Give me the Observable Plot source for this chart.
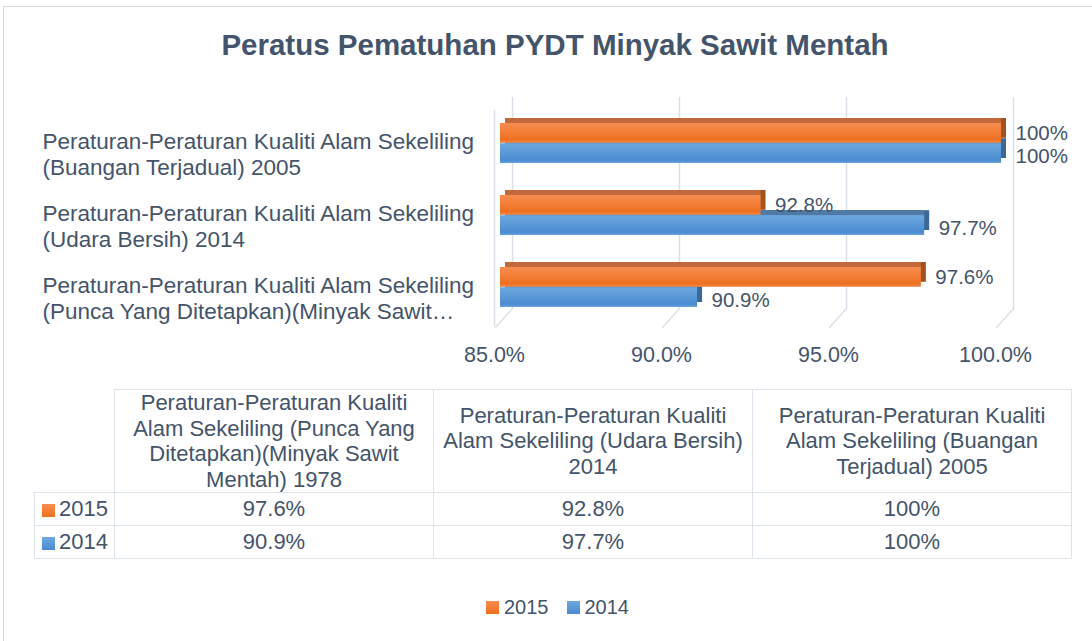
<!DOCTYPE html>
<html>
<head>
<meta charset="utf-8">
<script src="https://cdn.jsdelivr.net/npm/d3@7"></script>
<script src="https://cdn.jsdelivr.net/npm/@observablehq/plot@0.6"></script>
<style>
  html, body { margin: 0; padding: 0; background: #ffffff; }
  body { width: 1092px; height: 641px; overflow: hidden; position: relative;
         font-family: "Liberation Sans", Arial, sans-serif; color: #44546a; }
  #frame { position: absolute; left: 3px; top: 6px; width: 1200px; height: 700px;
           border: 1px solid #d9d9d9; box-sizing: border-box; }
  #title { position: absolute; left: 0; top: 28px; width: 1110px; text-align: center;
           font-weight: bold; font-size: 29.5px; line-height: 34px; color: #44546a; }
  #chart { position: absolute; left: 0; top: 0; }
  #tbl { position: absolute; left: 34px; top: 389px; border-collapse: collapse;
         font-size: 22px; color: #44546a; table-layout: fixed; }
  #tbl td { border: 1.5px solid #dde3ea; padding: 0; text-align: center; vertical-align: middle;
            white-space: nowrap; }
  #tbl td.hdr { height: 102px; line-height: 25.5px; }
  #tbl td.corner { border-top: none; border-left: none; }
  #tbl td.val { height: 32px; }
  #tbl td.key { text-align: left; padding-left: 7px; }
  .sq { display: inline-block; width: 13px; height: 13px; margin-right: 4px; vertical-align: -1px; }
  #legend { position: absolute; left: 486px; top: 596px; font-size: 20px; color: #44546a;
            display: flex; align-items: center; white-space: nowrap; }
  #legend .item { display: flex; align-items: center; margin-right: 18px; }
  #legend .sq { margin-right: 5px; }
</style>
</head>
<body>
<div id="frame"></div>
<div id="title">Peratus Pematuhan PYDT Minyak Sawit Mentah</div>
<div id="chart"></div>
<table id="tbl"></table>
<div id="legend"></div>
<script>
// ---------------- data ----------------
const categories = [
  "Peraturan-Peraturan Kualiti Alam Sekeliling (Punca Yang Ditetapkan)(Minyak Sawit Mentah) 1978",
  "Peraturan-Peraturan Kualiti Alam Sekeliling (Udara Bersih) 2014",
  "Peraturan-Peraturan Kualiti Alam Sekeliling (Buangan Terjadual) 2005"
];
const axisLabels = [
  "Peraturan-Peraturan Kualiti Alam Sekeliling\n(Punca Yang Ditetapkan)(Minyak Sawit…",
  "Peraturan-Peraturan Kualiti Alam Sekeliling\n(Udara Bersih) 2014",
  "Peraturan-Peraturan Kualiti Alam Sekeliling\n(Buangan Terjadual) 2005"
];
const tableHeaderLines = [
  ["Peraturan-Peraturan Kualiti", "Alam Sekeliling (Punca Yang", "Ditetapkan)(Minyak Sawit", "Mentah) 1978"],
  ["Peraturan-Peraturan Kualiti", "Alam Sekeliling (Udara Bersih)", "2014"],
  ["Peraturan-Peraturan Kualiti", "Alam Sekeliling (Buangan", "Terjadual) 2005"]
];
const series = ["2015", "2014"];
const values2015 = [97.6, 92.8, 100];
const values2014 = [90.9, 97.7, 100];
const xDomain = [85, 100];
const xTicks = [85, 90, 95, 100];

// ---------------- styling ----------------
const textColor = "#44546a";
const gridColor = "#dbe0e8";
const colors = {
  "2015": {front: "url(#gradOrange)", top: "#c36a3d", side: "#a5511c"},
  "2014": {front: "url(#gradBlue)", top: "#4f7aa6", side: "#3c6897"}
};

const data = categories.map((c, i) => ({
  cat: c, label: axisLabels[i], "2015": values2015[i], "2014": values2014[i]
}));
const chartOrder = categories.slice().reverse();

const depth = 5;
const halfBand = 20.2;
const lineShape = {draw(context, l) { context.moveTo(0, 0); context.lineTo(0, -l); }};

function barMarks(s, isTop) {
  const base = {y: "cat", x1: () => xDomain[0], x2: s};
  const ins = isTop ? {insetBottom: halfBand} : {insetTop: halfBand};
  return [
    Plot.barX(data, {...base, ...ins, dx: depth, dy: -depth, fill: colors[s].side}),
    Plot.barX(data, {...base, ...ins, dx: depth, dy: -depth, insetRight: depth, fill: colors[s].top}),
    Plot.barX(data, {...base, ...ins, fill: colors[s].front}),
    Plot.text(data, {x: s, y: "cat", text: d => `${d[s]}%`, dx: 14, dy: isTop ? -10.4 : 13.2,
      textAnchor: "start", fontSize: 20.5, fill: textColor})
  ];
}

const chart = Plot.plot({
  width: 1092,
  height: 380,
  marginLeft: 500,
  marginRight: 91,
  marginTop: 102.6,
  marginBottom: 53,
  style: {fontFamily: "'Liberation Sans', Arial, sans-serif", color: textColor, background: "transparent", overflow: "visible"},
  x: {domain: xDomain, axis: null},
  y: {domain: chartOrder, paddingInner: 0.44, paddingOuter: 0.273, axis: null},
  marks: [
    Plot.ruleX(xTicks, {x: d => d, dx: 12, dy: -19, insetTop: 13.4, stroke: gridColor, strokeWidth: 1.5}),
    Plot.vector(xTicks, {x: d => d, frameAnchor: "bottom", anchor: "start", dx: -5, length: 25.5, rotate: 41.8,
      shape: lineShape, stroke: gridColor, strokeWidth: 1.5}),
    Plot.ruleX([xDomain[0]], {x: d => d, dx: -6, insetTop: 7.4, insetBottom: 1, stroke: gridColor, strokeWidth: 1.5}),
    Plot.axisX(xTicks, {tickSize: 0, tickPadding: 19, dx: -6, tickFormat: d => d.toFixed(1) + "%",
      fontSize: 21.5, fill: textColor}),
    Plot.text(data, {y: "cat", text: "label", frameAnchor: "left", dx: -458, dy: 10, textAnchor: "start",
      fontSize: 22.5, lineHeight: 1.16, fill: textColor}),
    ...barMarks("2014", false),
    ...barMarks("2015", true)
  ]
});

// gradients for 3D-looking bars
const svg = d3.select(chart.tagName.toLowerCase() === "svg" ? chart : chart.querySelector("svg"));
const defs = svg.insert("defs", ":first-child");
function grad(id, c0, c1, c2) {
  const g = defs.append("linearGradient").attr("id", id).attr("x1", 0).attr("y1", 0).attr("x2", 0).attr("y2", 1);
  g.append("stop").attr("offset", "0%").attr("stop-color", c0);
  g.append("stop").attr("offset", "85%").attr("stop-color", c1);
  g.append("stop").attr("offset", "100%").attr("stop-color", c2);
}
grad("gradOrange", "#f68d50", "#ee7020", "#f08a4c");
grad("gradBlue", "#6eaae0", "#4a8ad0", "#6aa3da");
document.getElementById("chart").appendChild(chart);

// ---------------- data table ----------------
const tbl = d3.select("#tbl");
const colgroup = tbl.append("colgroup");
colgroup.append("col").style("width", "80px");
categories.forEach(() => colgroup.append("col").style("width", "319px"));
const hdr = tbl.append("tr");
hdr.append("td").attr("class", "hdr corner");
tableHeaderLines.forEach(lines => hdr.append("td").attr("class", "hdr").html(lines.join("<br>")));
const swatch = {"2015": "linear-gradient(#f68d50, #ee7020)", "2014": "linear-gradient(#6eaae0, #4a8ad0)"};
series.forEach(s => {
  const tr = tbl.append("tr");
  const key = tr.append("td").attr("class", "val key");
  key.append("span").attr("class", "sq").style("background", swatch[s]);
  key.append("span").text(s);
  const vals = s === "2015" ? values2015 : values2014;
  vals.forEach(v => tr.append("td").attr("class", "val").text(`${v}%`));
});

// ---------------- legend ----------------
const legend = d3.select("#legend");
series.forEach(s => {
  const it = legend.append("div").attr("class", "item");
  it.append("span").attr("class", "sq").style("background", swatch[s]);
  it.append("span").text(s);
});
</script>
</body>
</html>
